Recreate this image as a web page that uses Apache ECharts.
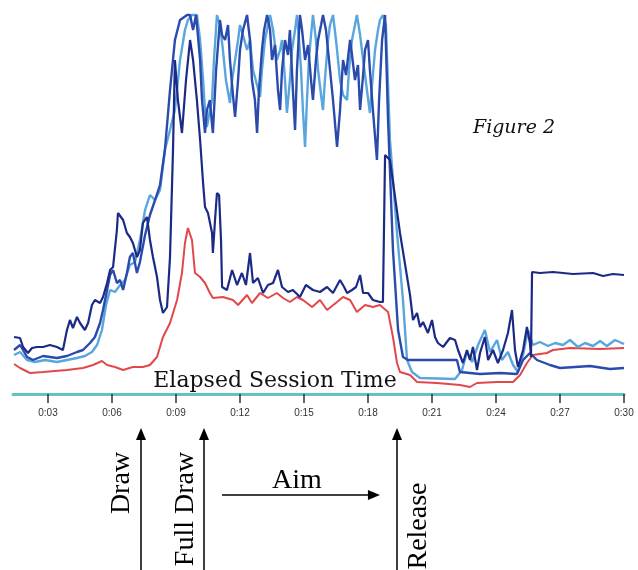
<!DOCTYPE html>
<html>
<head>
<meta charset="utf-8">
<script src="https://cdn.jsdelivr.net/npm/echarts@6.0.0/dist/echarts.min.js"></script>
<style>
  html, body { margin: 0; padding: 0; background: #fff; }
  #session_chart { width: 638px; height: 570px; }
</style>
</head>
<body>
<div id="session_chart"></div>
<script>
// elapsed time in seconds, signal level (arbitrary units, top of chart = saturated)
var tickTimes = [3, 6, 9, 12, 15, 18, 21, 24, 27, 30]
var tickLabels = ['0:03', '0:06', '0:09', '0:12', '0:15', '0:18', '0:21', '0:24', '0:27', '0:30']

var eventNames = ['Draw', 'Full Draw', 'Release']
var eventTimes = [7.36, 10.31, 19.36]
var aimSpan = [11.16, 18.56]

var redSignal = [
  [1.41, 30], [1.69, 26], [2.16, 21], [2.77, 22], [3.89, 24], [4.64, 26], [5.11, 29], [5.53, 33],
  [5.77, 29], [6.14, 27], [6.52, 24], [6.98, 27], [7.45, 27], [7.78, 29], [8.11, 37], [8.39, 57],
  [8.72, 71], [9.05, 94], [9.28, 121], [9.42, 151], [9.56, 166], [9.75, 154], [9.89, 121], [10.13, 117],
  [10.36, 111], [10.59, 101], [10.73, 96], [11.2, 97], [11.67, 94], [11.91, 89], [12.33, 99], [12.56, 91],
  [12.94, 101], [13.31, 96], [13.73, 101], [14.02, 96], [14.34, 92], [14.67, 97], [14.95, 94], [15.38, 87],
  [15.75, 94], [16.08, 84], [16.55, 92], [16.83, 97], [17.16, 94], [17.48, 82], [17.86, 89], [18.23, 87],
  [18.56, 89], [18.94, 82], [19.17, 57], [19.36, 31], [19.5, 22], [19.97, 19], [20.3, 12], [21.23, 11],
  [22.31, 9], [22.78, 7], [23.11, 11], [24.05, 12], [24.8, 12], [25.13, 19], [25.45, 31], [25.73, 39],
  [26.39, 41], [26.67, 44], [27.47, 46], [28.88, 45], [30, 46]
]

var navySignal = [
  [1.41, 57], [1.69, 56], [1.83, 47], [2.06, 41], [2.25, 46], [2.48, 47], [2.77, 47], [3.09, 49],
  [3.42, 47], [3.7, 44], [3.89, 64], [4.03, 74], [4.17, 66], [4.36, 77], [4.5, 71], [4.73, 64],
  [4.88, 71], [5.06, 89], [5.2, 94], [5.44, 91], [5.58, 97], [5.77, 111], [5.91, 124], [6.05, 127],
  [6.23, 164], [6.28, 181], [6.52, 174], [6.7, 161], [6.84, 157], [6.98, 151], [7.17, 137], [7.31, 144],
  [7.45, 171], [7.64, 177], [7.78, 154], [7.92, 137], [8.11, 117], [8.25, 94], [8.39, 81], [8.58, 87],
  [8.72, 137], [8.86, 244], [8.95, 334], [9.09, 294], [9.28, 261], [9.47, 314], [9.66, 354], [9.8, 334],
  [9.98, 294], [10.13, 254], [10.27, 211], [10.36, 187], [10.5, 181], [10.69, 161], [10.73, 141], [10.83, 174],
  [10.92, 201], [11.02, 199], [11.11, 154], [11.16, 107], [11.39, 104], [11.63, 124], [11.86, 109], [12.09, 121],
  [12.28, 109], [12.47, 141], [12.61, 111], [12.84, 116], [13.08, 101], [13.31, 109], [13.55, 111], [13.78, 124],
  [13.97, 107], [14.25, 102], [14.48, 104], [14.81, 97], [15.09, 109], [15.42, 104], [15.75, 102], [16.08, 107],
  [16.36, 101], [16.69, 114], [16.88, 107], [17.02, 101], [17.25, 104], [17.44, 107], [17.63, 119], [17.77, 101],
  [18, 101], [18.23, 94], [18.56, 92], [18.7, 92], [18.8, 239], [19.03, 234], [19.5, 161], [19.97, 99],
  [20.11, 74], [20.3, 81], [20.44, 67], [20.58, 72], [20.81, 61], [21, 74], [21.14, 57], [21.28, 51],
  [21.52, 47], [21.84, 56], [22.08, 54], [22.22, 44], [22.45, 31], [22.64, 44], [22.78, 34], [22.92, 47],
  [23.11, 24], [23.25, 41], [23.48, 57], [23.63, 34], [23.86, 44], [24.09, 31], [24.33, 44], [24.56, 61],
  [24.75, 84], [24.89, 44], [25.03, 27], [25.27, 44], [25.45, 67], [25.59, 51], [25.64, 37], [25.69, 122],
  [26.06, 121], [26.67, 122], [27.61, 120], [28.55, 121], [29.02, 118], [29.48, 120], [30, 119]
]

var royalSignal = [
  [1.41, 44], [1.69, 49], [2.02, 37], [2.3, 34], [2.77, 38], [3.42, 36], [3.89, 38], [4.36, 42],
  [4.64, 44], [4.97, 51], [5.2, 57], [5.44, 71], [5.58, 84], [5.77, 104], [5.91, 119], [6.05, 124],
  [6.23, 111], [6.38, 114], [6.52, 104], [6.7, 121], [6.84, 137], [6.98, 141], [7.17, 121], [7.31, 132],
  [7.55, 159], [7.78, 179], [8.02, 194], [8.25, 209], [8.48, 244], [8.72, 304], [8.95, 354], [9.19, 374],
  [9.52, 379], [9.66, 379], [9.8, 364], [9.94, 379], [10.13, 334], [10.22, 294], [10.36, 261], [10.45, 284],
  [10.59, 294], [10.69, 269], [10.73, 261], [10.88, 324], [11.06, 374], [11.16, 359], [11.3, 354], [11.44, 369],
  [11.53, 334], [11.67, 299], [11.77, 277], [11.91, 314], [12, 344], [12.14, 364], [12.33, 379], [12.47, 354],
  [12.56, 314], [12.7, 294], [12.8, 261], [12.89, 304], [13.03, 344], [13.13, 364], [13.27, 379], [13.41, 364],
  [13.5, 334], [13.64, 349], [13.78, 304], [13.88, 284], [13.97, 324], [14.11, 354], [14.25, 339], [14.34, 364],
  [14.48, 304], [14.58, 264], [14.67, 324], [14.81, 379], [14.91, 364], [15.05, 334], [15.19, 349], [15.33, 314],
  [15.42, 294], [15.56, 334], [15.66, 354], [15.8, 369], [15.89, 379], [16.03, 364], [16.22, 324], [16.36, 294],
  [16.55, 247], [16.69, 284], [16.83, 334], [16.97, 319], [17.16, 354], [17.25, 339], [17.39, 314], [17.53, 329],
  [17.63, 284], [17.77, 319], [17.86, 344], [18, 354], [18.09, 324], [18.23, 284], [18.42, 234], [18.52, 294],
  [18.66, 354], [18.8, 379], [18.94, 274], [19.17, 144], [19.41, 64], [19.64, 37], [19.88, 34], [22.17, 34],
  [22.31, 22], [23.25, 20], [24.19, 21], [24.98, 20], [25.27, 34], [25.59, 41], [25.92, 34], [26.53, 29],
  [27, 26], [28.41, 28], [29.34, 25], [30, 26]
]

var lightSignal = [
  [1.41, 39], [1.69, 42], [2.02, 34], [2.39, 32], [2.86, 34], [3.42, 32], [3.89, 34], [4.36, 36],
  [4.73, 38], [5.06, 42], [5.3, 49], [5.53, 64], [5.72, 89], [5.91, 104], [6.14, 102], [6.38, 109],
  [6.61, 114], [6.84, 129], [7.08, 132], [7.31, 154], [7.55, 184], [7.78, 199], [8.02, 194], [8.25, 204],
  [8.48, 244], [8.72, 264], [8.95, 284], [9.19, 334], [9.42, 364], [9.56, 374], [9.75, 379], [9.98, 379],
  [10.13, 354], [10.27, 314], [10.36, 284], [10.45, 267], [10.59, 284], [10.69, 294], [10.78, 334], [10.92, 379],
  [11.06, 369], [11.2, 344], [11.34, 314], [11.53, 291], [11.63, 314], [11.77, 334], [11.91, 354], [12, 369],
  [12.14, 359], [12.33, 344], [12.47, 354], [12.61, 324], [12.8, 309], [12.94, 297], [13.03, 324], [13.17, 354],
  [13.31, 369], [13.41, 379], [13.55, 364], [13.73, 334], [13.88, 344], [13.97, 354], [14.11, 314], [14.2, 281],
  [14.34, 314], [14.44, 344], [14.58, 364], [14.67, 379], [14.77, 354], [14.86, 324], [14.95, 284], [15.05, 247],
  [15.14, 294], [15.23, 334], [15.33, 359], [15.42, 379], [15.56, 354], [15.66, 324], [15.8, 299], [15.89, 284],
  [15.98, 314], [16.13, 354], [16.22, 369], [16.36, 379], [16.5, 354], [16.69, 314], [16.83, 299], [17.02, 294],
  [17.11, 324], [17.25, 354], [17.39, 369], [17.48, 379], [17.63, 359], [17.77, 334], [17.95, 304], [18.09, 281],
  [18.19, 309], [18.33, 344], [18.47, 364], [18.56, 374], [18.7, 379], [18.84, 369], [19.03, 254], [19.36, 161],
  [19.64, 94], [19.83, 34], [20.06, 22], [20.44, 16], [22.08, 15], [22.41, 24], [22.64, 42], [22.88, 32],
  [23.16, 49], [23.48, 64], [23.72, 42], [24.05, 54], [24.28, 34], [24.56, 42], [24.8, 29], [25.03, 22],
  [25.27, 39], [25.5, 64], [25.73, 49], [26.06, 52], [26.44, 48], [26.77, 51], [27.14, 49], [27.47, 54],
  [27.84, 47], [28.17, 51], [28.55, 48], [28.88, 53], [29.2, 48], [29.58, 54], [30, 50]
]

function signal_series(data, color, width) {
  return {
    type: 'line',
    data: data,
    showSymbol: false,
    animation: false,
    silent: true,
    lineStyle: { color: color, width: width }
  }
}

function session_option() {
  return {
    backgroundColor: '#fff',
    grid: { left: 13, right: 14, top: 14, bottom: 176 },
    xAxis: {
      type: 'value',
      min: 1.36,
      max: 30,
      axisLine: { lineStyle: { color: '#63c1c3', width: 3 } },
      axisTick: {
        customValues: tickTimes,
        length: 9,
        lineStyle: { color: '#333', width: 1.5 }
      },
      axisLabel: {
        customValues: tickTimes,
        margin: 14,
        fontSize: 10,
        color: '#333',
        fontFamily: 'Liberation Sans',
        formatter: function(v) {
          return tickLabels[tickTimes.indexOf(v)]
        }
      },
      splitLine: { show: false }
    },
    yAxis: {
      type: 'value',
      min: 0,
      max: 380,
      show: false
    },
    series: [
      signal_series(redSignal, '#e2474b', 2),
      signal_series(lightSignal, '#58a6dd', 2.4),
      signal_series(royalSignal, '#2a4aac', 2.4),
      signal_series(navySignal, '#1b2a86', 2.2)
    ]
  }
}

function arrow_up(x, yTip, yEnd) {
  return [
    { type: 'line', shape: { x1: x, y1: yTip + 10, x2: x, y2: yEnd }, style: { stroke: '#000', lineWidth: 1.5 } },
    { type: 'polygon', shape: { points: [[x, yTip], [x - 5, yTip + 12], [x + 5, yTip + 12]] }, style: { fill: '#000' } }
  ]
}

function session_graphic(myChart) {
  var serif = 'Liberation Serif'
  var g = [
    {
      type: 'text', x: 275, y: 381, z: 100,
      style: { text: 'Elapsed Session Time', font: '22px "DejaVu Serif"', fill: '#111', align: 'center', verticalAlign: 'middle' }
    },
    {
      type: 'text', x: 514, y: 128,
      style: { text: 'Figure 2', font: 'italic 19px "DejaVu Serif"', fill: '#111', align: 'center', verticalAlign: 'middle' }
    }
  ]
  // label offset (left/right of arrow) and vertical centre of each rotated label
  var labelDx = [-19, -18, 22]
  var labelY = [483, 509, 526]
  eventTimes.forEach(function(t, i) {
    var x = Math.round(myChart.convertToPixel({ xAxisIndex: 0 }, t))
    g = g.concat(arrow_up(x, 428, 570))
    g.push({
      type: 'text', x: x + labelDx[i], y: labelY[i], rotation: Math.PI / 2,
      style: { text: eventNames[i], font: '28px "' + serif + '"', fill: '#000', align: 'center', verticalAlign: 'middle' }
    })
  })
  var ax1 = myChart.convertToPixel({ xAxisIndex: 0 }, aimSpan[0])
  var ax2 = myChart.convertToPixel({ xAxisIndex: 0 }, aimSpan[1])
  g.push({ type: 'line', shape: { x1: ax1, y1: 495, x2: ax2 - 10, y2: 495 }, style: { stroke: '#000', lineWidth: 1.5 } })
  g.push({ type: 'polygon', shape: { points: [[ax2, 495], [ax2 - 12, 490], [ax2 - 12, 500]] }, style: { fill: '#000' } })
  g.push({
    type: 'text', x: (ax1 + ax2) / 2 - 4, y: 481,
    style: { text: 'Aim', font: '28px "' + serif + '"', fill: '#000', align: 'center', verticalAlign: 'middle' }
  })
  return g
}

var myChart = echarts.init(document.querySelector('#session_chart'))
myChart.setOption(session_option())
myChart.setOption({ graphic: session_graphic(myChart) })
</script>
</body>
</html>
